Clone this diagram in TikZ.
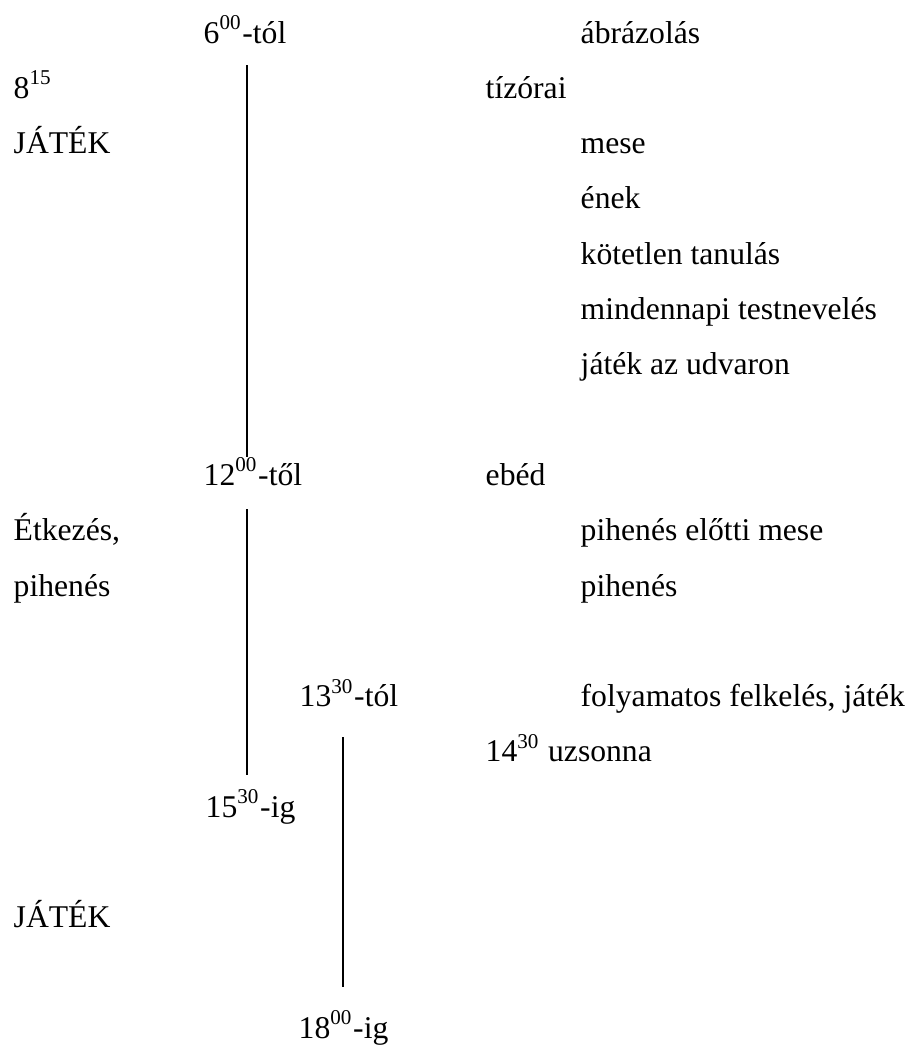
\documentclass[tikz,border=0pt]{standalone}
\usepackage{fontspec}
\setmainfont{Liberation Serif}

% row baseline (in pixels from top): #1 = row number
\newcommand{\rowy}[1]{{43 + 55.3*#1}}

\begin{document}
\begin{tikzpicture}[x=0.01cm, y=-0.01cm,
		every node/.style={inner sep=0pt, anchor=base west, font=\fontsize{9}{11}\selectfont},
		timeline/.style={black, line width=0.55pt}]
		\useasboundingbox (0, 0) rectangle (913, 1045);
		% left column
		\node (n815) at (13, \rowy{1}) {8\textsuperscript{15}};
		\node (jatek1) at (13, \rowy{2}) {JÁTÉK};
		\node (etkezes) at (13, \rowy{9}) {Étkezés,};
		\node (pihenes1) at (13, \rowy{10}) {pihenés};
		\node (jatek2) at (13, \rowy{16}) {JÁTÉK};
		% times
		\node (t600) at (203, \rowy{0}) {6\textsuperscript{00}-tól};
		\node (t1200) at (203, \rowy{8}) {12\textsuperscript{00}-től};
		\node (t1530) at (205, \rowy{14}) {15\textsuperscript{30}-ig};
		\node (t1330) at (299, \rowy{12}) {13\textsuperscript{30}-tól};
		\node (t1800) at (298, \rowy{18}) {18\textsuperscript{00}-ig};
		% middle column
		\node (tizorai) at (485, \rowy{1}) {tízórai};
		\node (ebed) at (485, \rowy{8}) {ebéd};
		\node (uzsonna) at (485, \rowy{13}) {14\textsuperscript{30} uzsonna};
		% right column
		\node (abrazolas) at (580, \rowy{0}) {ábrázolás};
		\node (mese) at (580, \rowy{2}) {mese};
		\node (enek) at (580, \rowy{3}) {ének};
		\node (tanulas) at (580, \rowy{4}) {kötetlen tanulás};
		\node (testneveles) at (580, \rowy{5}) {mindennapi testnevelés};
		\node (udvar) at (580, \rowy{6}) {játék az udvaron};
		\node (elotti) at (580, \rowy{9}) {pihenés előtti mese};
		\node (pihenes2) at (580, \rowy{10}) {pihenés};
		\node (felkeles) at (580, \rowy{12}) {folyamatos felkelés, játék};
		% time lines
		\coordinate (l1top) at (247, 65);
		\coordinate (l1bot) at (247, 457);
		\coordinate (l2top) at (247, 509);
		\coordinate (l2bot) at (247, 775);
		\coordinate (l3top) at (343, 737);
		\coordinate (l3bot) at (343, 987);
		\draw[timeline] (l1top) -- (l1bot);
		\draw[timeline] (l2top) -- (l2bot);
		\draw[timeline] (l3top) -- (l3bot);
	\end{tikzpicture}
\end{document}
